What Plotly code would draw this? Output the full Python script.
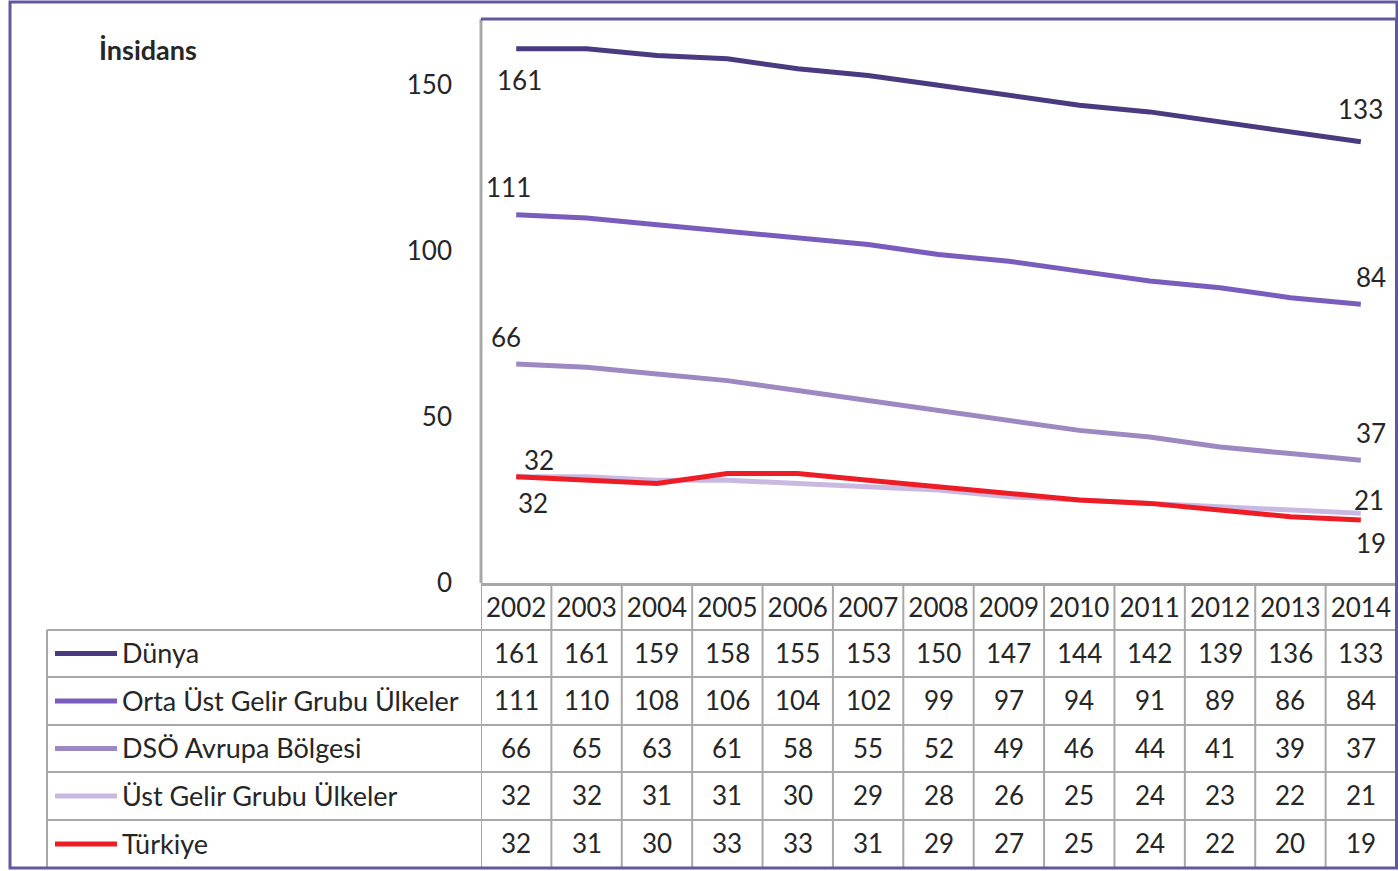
import plotly.graph_objects as go

years = ["2002", "2003", "2004", "2005", "2006", "2007", "2008", "2009", "2010", "2011", "2012", "2013", "2014"]
series_names = ["Dünya", "Orta Üst Gelir Grubu Ülkeler", "DSÖ Avrupa Bölgesi", "Üst Gelir Grubu Ülkeler", "Türkiye"]
dunya = [161, 161, 159, 158, 155, 153, 150, 147, 144, 142, 139, 136, 133]
orta_ust = [111, 110, 108, 106, 104, 102, 99, 97, 94, 91, 89, 86, 84]
dso_avrupa = [66, 65, 63, 61, 58, 55, 52, 49, 46, 44, 41, 39, 37]
ust_gelir = [32, 32, 31, 31, 30, 29, 28, 26, 25, 24, 23, 22, 21]
turkiye = [32, 31, 30, 33, 33, 31, 29, 27, 25, 24, 22, 20, 19]
y_ticks = [0, 50, 100, 150]
y_title = "İnsidans"

colors = ["#4b3a80", "#7a5cbc", "#9d88c2", "#c9b9e2", "#ee1d25"]
all_series = [dunya, orta_ust, dso_avrupa, ust_gelir, turkiye]
draw_order = [3, 2, 1, 0, 4]

W, H = 1398, 871
FONT = "Lato"
FS = 26
TXT = "#262626"
GRID = "#a8a8a8"
PURPLE = "#6258a0"

def px(x):
    return x / W

def py(y):
    return 1 - y / H

fig = go.Figure()
for i in draw_order:
    fig.add_trace(go.Scatter(x=years, y=all_series[i], mode="lines", name=series_names[i],
                             line=dict(color=colors[i], width=5), showlegend=False))

# data labels at first and last points: (series idx, point idx, xshift, yshift)
label_spec = [
    (0, 0, 3, -31), (0, 12, 0, 33),
    (1, 0, -8, 28), (1, 12, 10, 27),
    (2, 0, -10, 27), (2, 12, 10, 27),
    (3, 0, 23, 17), (3, 12, 8, 13),
    (4, 0, 17, -26), (4, 12, 10, -23),
]
annotations = []
for si, pi, xs, ys in label_spec:
    annotations.append(dict(x=pi, y=all_series[si][pi], xref="x", yref="y", text=str(all_series[si][pi]),
                            showarrow=False, xshift=xs, yshift=ys, font=dict(family=FONT, size=FS, color=TXT)))

annotations.append(dict(x=px(97), y=py(50), xref="paper", yref="paper", text="<b>" + y_title + "</b>",
                        showarrow=False, xanchor="left", yanchor="middle", font=dict(family=FONT, size=27, color=TXT)))

plot_top, plot_bottom = 19, 583
table_left, table_right = 47, 1396
row_lines = [630, 677, 725, 772, 820, 868]

shapes = []
for k in range(len(series_names)):
    y0, y1 = row_lines[k], row_lines[k + 1]
    yc = (y0 + y1) / 2
    shapes.append(dict(type="line", xref="paper", yref="paper", x0=px(55), x1=px(117), y0=py(yc), y1=py(yc),
                       line=dict(color=colors[k], width=5)))
    annotations.append(dict(x=px(120), y=py(yc - 1), xref="paper", yref="paper", text=series_names[k], showarrow=False,
                            xanchor="left", yanchor="middle", font=dict(family=FONT, size=27, color=TXT)))
    for j in range(len(years)):
        annotations.append(dict(x=j, y=py(yc - 1), xref="x", yref="paper", text=str(all_series[k][j]), showarrow=False,
                                xanchor="center", yanchor="middle", font=dict(family=FONT, size=FS, color=TXT)))

for yl in row_lines[:-1]:
    shapes.append(dict(type="line", xref="paper", yref="paper", x0=px(table_left), x1=px(table_right), y0=py(yl), y1=py(yl),
                       line=dict(color=GRID, width=2)))
shapes.append(dict(type="line", xref="paper", yref="paper", x0=px(table_left), x1=px(table_left), y0=py(row_lines[0]), y1=py(row_lines[-1]),
                   line=dict(color=GRID, width=2)))
for j in range(len(years) + 1):
    shapes.append(dict(type="line", xref="x", yref="paper", x0=j - 0.5, x1=j - 0.5, y0=py(plot_bottom), y1=py(row_lines[-1]),
                       line=dict(color=GRID, width=2)))
shapes.append(dict(type="line", xref="paper", yref="paper", x0=px(481), x1=px(481), y0=py(plot_bottom), y1=py(plot_top),
                   line=dict(color=GRID, width=3)))
shapes.append(dict(type="line", xref="paper", yref="paper", x0=px(481), x1=px(1396), y0=py(plot_top), y1=py(plot_top),
                   line=dict(color=PURPLE, width=3)))
shapes.append(dict(type="line", xref="paper", yref="paper", x0=px(1396), x1=px(1396), y0=py(plot_top), y1=py(868),
                   line=dict(color=PURPLE, width=2)))
shapes.append(dict(type="rect", xref="paper", yref="paper", x0=px(10), x1=px(1397), y0=py(868), y1=py(2),
                   line=dict(color=PURPLE, width=3)))

fig.update_layout(
    autosize=False, width=W, height=H, margin=dict(l=0, r=0, t=0, b=0, autoexpand=False),
    paper_bgcolor="white", plot_bgcolor="white",
    xaxis=dict(domain=[px(481), px(1396)], type="category", range=[-0.5, 12.5], showgrid=False, zeroline=False,
               showline=True, linecolor=GRID, linewidth=3, ticks="", ticklabelstandoff=0, automargin=False,
               tickfont=dict(family=FONT, size=FS, color=TXT)),
    yaxis=dict(domain=[py(plot_bottom), py(plot_top)], range=[0, 170], tickvals=y_ticks, showgrid=False, zeroline=False,
               showline=False, ticks="", ticklabelstandoff=28, automargin=False,
               tickfont=dict(family=FONT, size=FS, color=TXT)),
    shapes=shapes, annotations=annotations,
)

post = "document.body.style.margin='0';document.body.style.overflow='hidden';"
fig.write_html("out.html", post_script=post, config={"displayModeBar": False})
